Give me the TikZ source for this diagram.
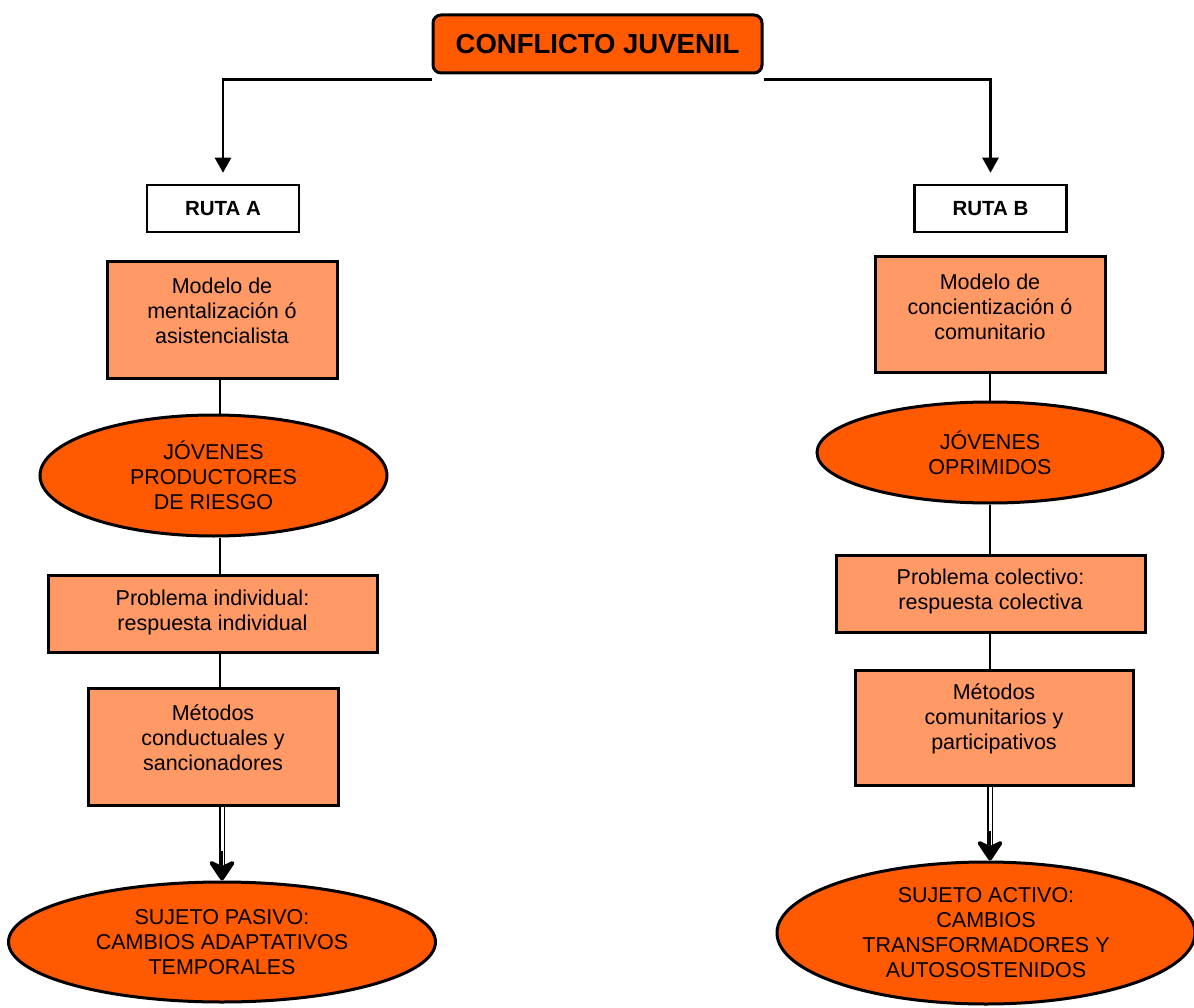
\documentclass[tikz,border=0pt]{standalone}
\usepackage{fontspec}
\setmainfont{Liberation Sans}
\usetikzlibrary{shapes.geometric,arrows.meta}
\definecolor{orangec}{HTML}{FF5A00}
\definecolor{salmonc}{HTML}{FF9966}
\newcommand\bodyf{\fontsize{21.5}{25}\selectfont}
\begin{document}
\begin{tikzpicture}[x=1pt,y=-1pt,
  box/.style={draw, line width=3pt, fill=salmonc, inner sep=0pt},
  txt/.style={align=center, font=\bodyf, inner sep=0pt},
  oval/.style={ellipse, draw, line width=3pt, fill=orangec, align=center, font=\bodyf, inner sep=0pt},
  ruta/.style={draw, line width=2.5pt, fill=white, font=\bfseries\fontsize{20.5}{24}\selectfont, inner sep=0pt, minimum width=152pt, minimum height=47pt},
  conn/.style={line width=2.5pt},
  arr/.style={line width=2.5pt, -{Triangle[length=15pt,width=16pt]}},
  dbl/.style={line width=1.8pt, double, double distance=3pt},
  tipst/.style={line width=2pt, -{Stealth[length=24pt,width=32pt,inset=8pt,round,line width=4pt]}}
]
\useasboundingbox (0,0) rectangle (1194,1008);
% title
\node[draw, line width=3pt, fill=orangec, rounded corners=8pt, minimum width=329pt, minimum height=58pt, inner sep=0pt, font=\bfseries\fontsize{27.5}{32}\selectfont] (title) at (597.5,44) {CONFLICTO JUVENIL};
\node[ruta] (ra) at (223,208.5) {RUTA A};
\node[ruta] (rb) at (990.5,208.5) {RUTA B};
% left column
\node[box, minimum width=230pt, minimum height=116pt] (a1) at (222,320) {};
\node[txt] (ta1) at ([yshift=9pt]a1.center) {Modelo de\\mentalización ó\\asistencialista};
\node[oval, minimum width=347pt, minimum height=121pt] (a2) at (213.5,475.5) {JÓVENES\\PRODUCTORES\\DE RIESGO};
\node[box, minimum width=329pt, minimum height=77pt] (a3) at (212.5,613.5) {};
\node[txt] (ta3) at ([yshift=1pt]a3.center) {Problema individual:\\respuesta individual};
\node[box, minimum width=250pt, minimum height=117pt] (a4) at (213,746.5) {};
\node[txt] (ta4) at ([yshift=9pt]a4.center) {Métodos\\conductuales y\\sancionadores};
\node[oval, minimum width=427pt, minimum height=120pt] (a5) at (222,942) {SUJETO PASIVO:\\CAMBIOS ADAPTATIVOS\\TEMPORALES};
% right column
\node[box, minimum width=230pt, minimum height=115pt] (b1) at (990,314.5) {};
\node[txt] (tb1) at ([yshift=8pt]b1.center) {Modelo de\\concientización ó\\comunitario};
\node[oval, minimum width=346pt, minimum height=101pt] (b2) at (990,452.5) {JÓVENES\\OPRIMIDOS};
\node[box, minimum width=309pt, minimum height=77pt] (b3) at (990.5,593.5) {};
\node[txt] (tb3) at ([yshift=2pt]b3.center) {Problema colectivo:\\respuesta colectiva};
\node[box, minimum width=278pt, minimum height=115pt] (b4) at (994,727.5) {};
\node[txt] (tb4) at ([yshift=9pt]b4.center) {Métodos\\comunitarios y\\participativos};
\node[oval, minimum width=418pt, minimum height=142pt] (b5) at (986,933) {SUJETO ACTIVO:\\CAMBIOS\\TRANSFORMADORES Y\\AUTOSOSTENIDOS};
% top connectors
\draw[arr] ([yshift=-5pt]title.south west) -| ([yshift=11pt]ra.north);
\draw[arr] ([yshift=-5pt]title.south east) -| ([yshift=11pt]rb.north);
% left connectors
\coordinate (lx) at (220,0);
\coordinate (rx) at (990,0);
\draw[conn] (a1.south -| lx) -- (a2.north -| lx);
\draw[conn] (a2.south -| lx) -- (a3.north -| lx);
\draw[conn] (a3.south -| lx) -- (a4.north -| lx);
\draw[dbl] (a4.south -| a5.north) -- ([yshift=16pt]a5.north);
\draw[tipst] ([yshift=30pt]a5.north) -- (a5.north);
% right connectors
\draw[conn] (b1.south -| rx) -- (b2.north -| rx);
\draw[conn] (b2.south -| rx) -- (b3.north -| rx);
\draw[conn] (b3.south -| rx) -- (b4.north -| rx);
\draw[dbl] (b4.south -| rx) -- ([yshift=16pt]b5.north -| rx);
\draw[tipst] ([yshift=30pt]b5.north -| rx) -- (b5.north -| rx);
\end{tikzpicture}
\end{document}
